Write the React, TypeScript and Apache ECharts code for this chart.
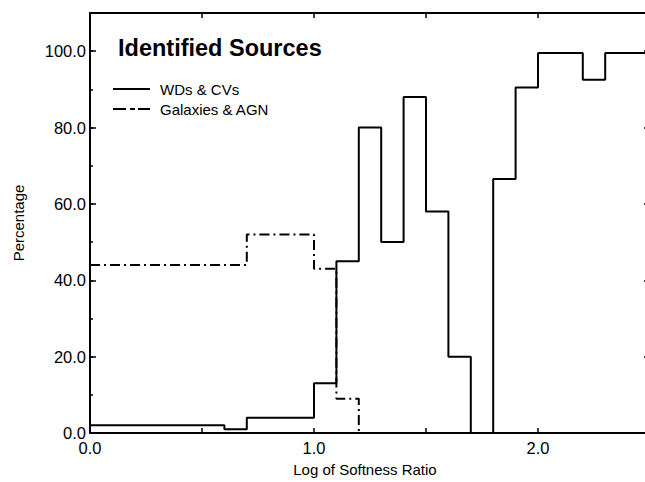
import React, { useEffect, useRef } from "react";
import * as echarts from "echarts";

// Bin edges (log of softness ratio) and percentage levels; the last level closes the final bin.
const wdEdges = [0, 0.6, 0.7, 1.0, 1.1, 1.2, 1.3, 1.4, 1.5, 1.6, 1.7, 1.8, 1.9, 2.0, 2.2, 2.3, 2.5];
const wdLevels = [2, 1, 4, 13, 45, 80, 50, 88, 58, 20, 0, 66.5, 90.5, 99.5, 92.5, 99.5, 99.5];

const galEdges = [0, 0.7, 1.0, 1.1, 1.2];
const galLevels = [44, 52, 43, 9, 0];

const xTickLabels = ["0.0", "1.0", "2.0"];
const yTickLabels = ["0.0", "20.0", "40.0", "60.0", "80.0", "100.0"];

const seriesNames = ["WDs & CVs", "Galaxies & AGN"];

const FONT = "'Liberation Sans', Arial, Helvetica, sans-serif";

export default function App() {
  const ref = useRef<HTMLDivElement>(null);

  useEffect(() => {
    if (!ref.current) return;
    const chart = echarts.init(ref.current, undefined, { renderer: "svg" });

    const wdData = wdEdges.map((x, i) => [x, wdLevels[i]]);
    const galData = galEdges.map((x, i) => [x, galLevels[i]]);

    const axisLine = { show: true, onZero: false, lineStyle: { color: "#000", width: 2 } };
    const tick = { show: true, inside: true, length: 5, lineStyle: { color: "#000", width: 1.5 } };

    chart.setOption({
      animation: false,
      backgroundColor: "#fff",
      textStyle: { fontFamily: FONT },
      title: {
        text: "Identified Sources",
        left: 113,
        top: 31,
        textStyle: { fontFamily: FONT, fontSize: 23.5, fontWeight: "bold", color: "#000" },
      },
      graphic: [
        {
          type: "line",
          shape: { x1: 113, y1: 89, x2: 150, y2: 89 },
          style: { stroke: "#000", lineWidth: 2 },
        },
        {
          type: "text",
          x: 160,
          y: 89,
          style: { text: seriesNames[0], fontSize: 15, fontFamily: FONT, fill: "#000", verticalAlign: "middle" },
        },
        {
          type: "line",
          shape: { x1: 113, y1: 109, x2: 150, y2: 109 },
          style: { stroke: "#000", lineWidth: 2, lineDash: [13, 4, 5, 3] },
        },
        {
          type: "text",
          x: 160,
          y: 109,
          style: { text: seriesNames[1], fontSize: 15, fontFamily: FONT, fill: "#000", verticalAlign: "middle" },
        },
      ],
      grid: { left: 90, top: 13, right: 5, bottom: 42, containLabel: false },
      xAxis: [
        {
          type: "value",
          position: "bottom",
          min: 0,
          max: 2.5,
          interval: 0.5,
          axisLine,
          axisTick: tick,
          splitLine: { show: false },
          axisLabel: {
            color: "#000",
            fontSize: 16.5,
            fontFamily: FONT,
            margin: 6,
            formatter: (v: number) => {
              const s = v.toFixed(1);
              return xTickLabels.includes(s) ? s : "";
            },
          },
          name: "Log of Softness Ratio",
          nameLocation: "middle",
          nameGap: 29,
          nameTextStyle: { color: "#000", fontSize: 15, fontFamily: FONT, padding: [0, 10, 0, 0] },
        },
        {
          type: "value",
          position: "top",
          min: 0,
          max: 2.5,
          interval: 0.5,
          axisLine,
          axisTick: tick,
          splitLine: { show: false },
          axisLabel: { show: false },
        },
      ],
      yAxis: [
        {
          type: "value",
          position: "left",
          min: 0,
          max: 110,
          interval: 10,
          axisLine,
          axisTick: { ...tick, length: 3 },
          splitLine: { show: false },
          axisLabel: {
            color: "#000",
            fontSize: 16.5,
            fontFamily: FONT,
            margin: 4,
            formatter: (v: number) => {
              const s = v.toFixed(1);
              return yTickLabels.includes(s) ? s : "";
            },
          },
          name: "Percentage",
          nameLocation: "middle",
          nameRotate: 90,
          nameGap: 64,
          nameTextStyle: { color: "#000", fontSize: 15, fontFamily: FONT },
        },
        {
          type: "value",
          position: "left",
          offset: 0,
          min: 0,
          max: 110,
          interval: 20,
          axisLine: { show: false },
          axisTick: { ...tick, length: 6 },
          splitLine: { show: false },
          axisLabel: { show: false },
        },
        {
          type: "value",
          position: "right",
          min: 0,
          max: 110,
          interval: 20,
          axisLine,
          axisTick: { ...tick, length: 6 },
          splitLine: { show: false },
          axisLabel: { show: false },
        },
      ],
      series: [
        {
          name: seriesNames[0],
          type: "line",
          step: "end",
          data: wdData,
          symbol: "none",
          color: "#000",
          lineStyle: { color: "#000", width: 2 },
          xAxisIndex: 0,
          yAxisIndex: 0,
        },
        {
          name: seriesNames[1],
          type: "line",
          step: "end",
          data: galData,
          symbol: "none",
          color: "#000",
          lineStyle: { color: "#000", width: 2, type: [10, 4, 2, 4] },
          xAxisIndex: 0,
          yAxisIndex: 0,
        },
      ],
    });

    return () => chart.dispose();
  }, []);

  return (
    <div style={{ position: "absolute", left: 0, top: 0, width: 645, height: 482, overflow: "hidden" }}>
      <div ref={ref} style={{ width: 655, height: 482 }} />
    </div>
  );
}
